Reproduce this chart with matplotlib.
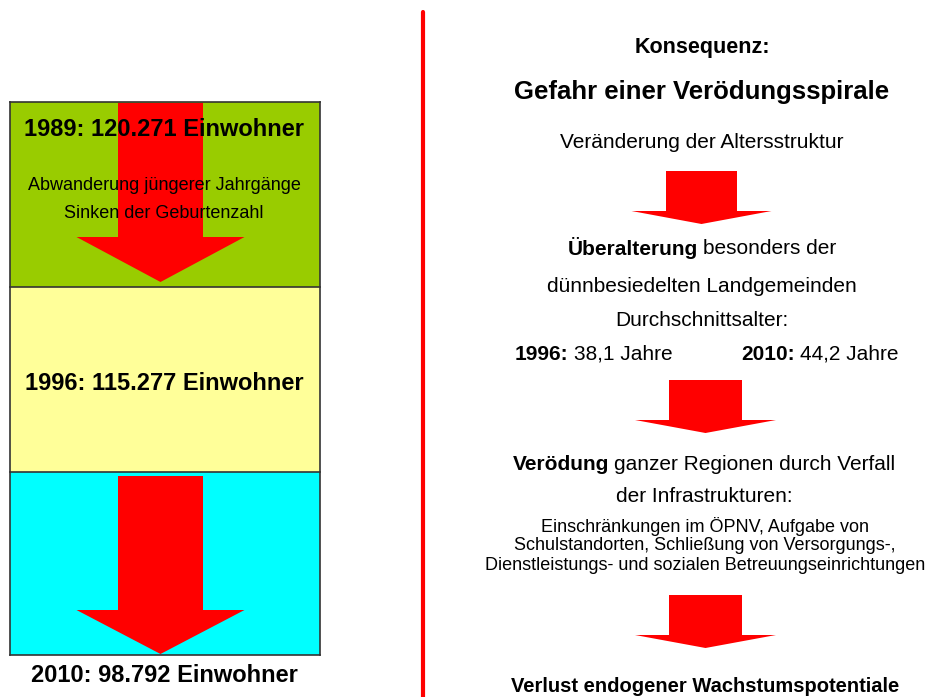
import matplotlib
matplotlib.use('Agg')
from matplotlib import pyplot as plt
from matplotlib.patches import Polygon, Rectangle

plt.rcParams['font.family'] = ['Liberation Sans', 'DejaVu Sans']

W, H = 929, 697

# linke Seite: Einwohner je Jahr
jahre = ['1989', '1996', '2010']
einwohner = ['120.271', '115.277', '98.792']
box_farben = ['#99CC00', '#FFFF99', '#00FFFF']
ursachen = ['Abwanderung jüngerer Jahrgänge', 'Sinken der Geburtenzahl']

# rechte Seite: Verödungsspirale
titel_klein = 'Konsequenz:'
titel = 'Gefahr einer Verödungsspirale'
schritt1 = 'Veränderung der Altersstruktur'
schritt2 = [('Überalterung', 'bold'), ('besonders der', 'normal')]
schritt2_rest = ['dünnbesiedelten Landgemeinden', 'Durchschnittsalter:']
alter_jahre = ['1996:', '2010:']
alter_werte = ['38,1 Jahre', '44,2 Jahre']
schritt3 = [('Verödung', 'bold'), ('ganzer Regionen durch Verfall', 'normal')]
schritt3_rest = 'der Infrastrukturen:'
details = ['Einschränkungen im ÖPNV, Aufgabe von',
           'Schulstandorten, Schließung von Versorgungs-,',
           'Dienstleistungs- und sozialen Betreuungseinrichtungen']
schluss = 'Verlust endogener Wachstumspotentiale'

fig = plt.figure(figsize=(W / 100, H / 100), dpi=100)
ax = fig.add_axes([0, 0, 1, 1])
ax.set_xlim(0, W)
ax.set_ylim(H, 0)
ax.axis('off')
r = fig.canvas.get_renderer()


def pfeil(xc, y0, y1, y2, sw, hw):
    pts = [(xc - sw, y0), (xc + sw, y0), (xc + sw, y1), (xc + hw, y1),
           (xc, y2), (xc - hw, y1), (xc - sw, y1)]
    ax.add_patch(Polygon(pts, closed=True, fc='#FF0000', ec='none', zorder=2))


def gemischt(x, y, teile, size, ha='center'):
    objs, breiten = [], []
    for t, w in teile:
        o = ax.text(0, y, t, fontsize=size, fontweight=w, va='center', ha='left', zorder=4)
        objs.append(o)
        breiten.append(o.get_window_extent(r).width)
    gap = 0.24 * size * 100 / 72
    total = sum(breiten) + gap * (len(objs) - 1)
    start = x - total / 2 if ha == 'center' else x
    for o, b in zip(objs, breiten):
        o.set_x(start)
        start += b + gap


# Kästen links
kanten = [102, 287, 472, 655]
for i, farbe in enumerate(box_farben):
    ax.add_patch(Rectangle((10, kanten[i]), 310, kanten[i + 1] - kanten[i],
                           fc=farbe, ec='none', zorder=1))
for yk in kanten:
    ax.plot([10, 320], [yk, yk], color='#333333', lw=1.2, zorder=5)
ax.plot([10, 10], [kanten[0], kanten[-1]], color='#333333', lw=1.2, zorder=5)
ax.plot([320, 320], [kanten[0], kanten[-1]], color='#333333', lw=1.2, zorder=5)

pfeil(160.5, 103, 237, 282, 42.5, 84)
pfeil(160.5, 476, 610, 654, 42.5, 84)

label_y = [130, 383, 675]
for j, e, yy in zip(jahre, einwohner, label_y):
    ax.text(164, yy, f'{j}: {e} Einwohner', fontsize=17, fontweight='bold',
            ha='center', va='center', zorder=4)
for t, yy in zip(ursachen, [185, 213]):
    ax.text(164, yy, t, fontsize=13, ha='center', va='center', zorder=4)

# rote Trennlinie
ax.plot([423, 423], [12, H + 5], color='#FF0000', lw=3, solid_capstyle='round', zorder=3)

# rechte Seite
xm = 704
ax.text(xm - 2, 48, titel_klein, fontsize=15.5, fontweight='bold', ha='center', va='center')
ax.text(xm - 2, 92, titel, fontsize=18.5, fontweight='bold', ha='center', va='center')
ax.text(xm - 2, 143, schritt1, fontsize=15, ha='center', va='center')
pfeil(701.5, 171, 211, 224, 35.5, 70)
gemischt(xm - 2, 248, schritt2, 15)
ax.text(xm - 2, 286, schritt2_rest[0], fontsize=15, ha='center', va='center')
ax.text(xm - 2, 320, schritt2_rest[1], fontsize=15, ha='center', va='center')
for xs, jj, ww in zip([515, 741], alter_jahre, alter_werte):
    gemischt(xs, 354, [(jj, 'bold'), (ww, 'normal')], 15, ha='left')
pfeil(705.5, 380, 420, 433, 36.5, 70.5)
gemischt(xm, 465, schritt3, 15)
ax.text(xm, 497, schritt3_rest, fontsize=15, ha='center', va='center')
for t, yy in zip(details, [527, 546, 566]):
    ax.text(xm + 1, yy, t, fontsize=13, ha='center', va='center')
pfeil(705.5, 595, 635, 648, 36.5, 70.5)
ax.text(xm + 1, 687, schluss, fontsize=14.5, fontweight='bold', ha='center', va='center')

fig.savefig('out.png', dpi=100)
